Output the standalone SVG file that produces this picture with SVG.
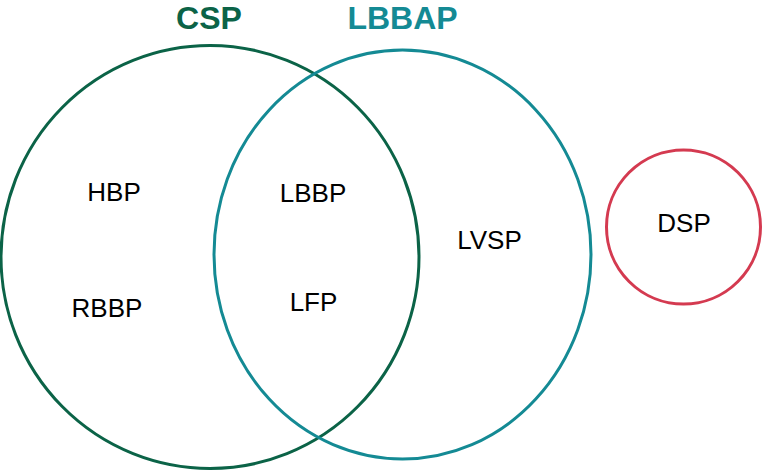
<svg xmlns="http://www.w3.org/2000/svg" width="763" height="471" viewBox="0 0 763 471">
<style>
.lbl{font-family:"Liberation Sans",Arial,sans-serif;font-size:26px;fill:#000;text-anchor:middle}
.ttl{font-family:"Liberation Sans",Arial,sans-serif;font-size:32px;font-weight:bold;text-anchor:middle}
.set{fill:none;stroke-width:3}
</style>
<rect width="763" height="471" fill="#fff"/>
<g id="csp">
<ellipse class="set" cx="210" cy="257" rx="209" ry="211.5" stroke="#0b6347"/>
<text class="ttl" x="209" y="29" fill="#0b6347">CSP</text>
</g>
<g id="lbbap">
<ellipse class="set" cx="402.5" cy="254.5" rx="188.5" ry="204.5" stroke="#148a94"/>
<text class="ttl" x="402.5" y="29" fill="#148a94">LBBAP</text>
</g>
<g id="dsp">
<circle class="set" cx="683.5" cy="227" r="77" stroke="#d43a50"/>
<text class="lbl" x="684" y="231.5">DSP</text>
</g>
<g id="hbp"><text class="lbl" x="114" y="201">HBP</text></g>
<g id="rbbp"><text class="lbl" x="107" y="316.5">RBBP</text></g>
<g id="lbbp"><text class="lbl" x="313" y="201.5">LBBP</text></g>
<g id="lfp"><text class="lbl" x="313.5" y="311">LFP</text></g>
<g id="lvsp"><text class="lbl" x="489.5" y="249">LVSP</text></g>
<g id="connectors"></g>
</svg>
